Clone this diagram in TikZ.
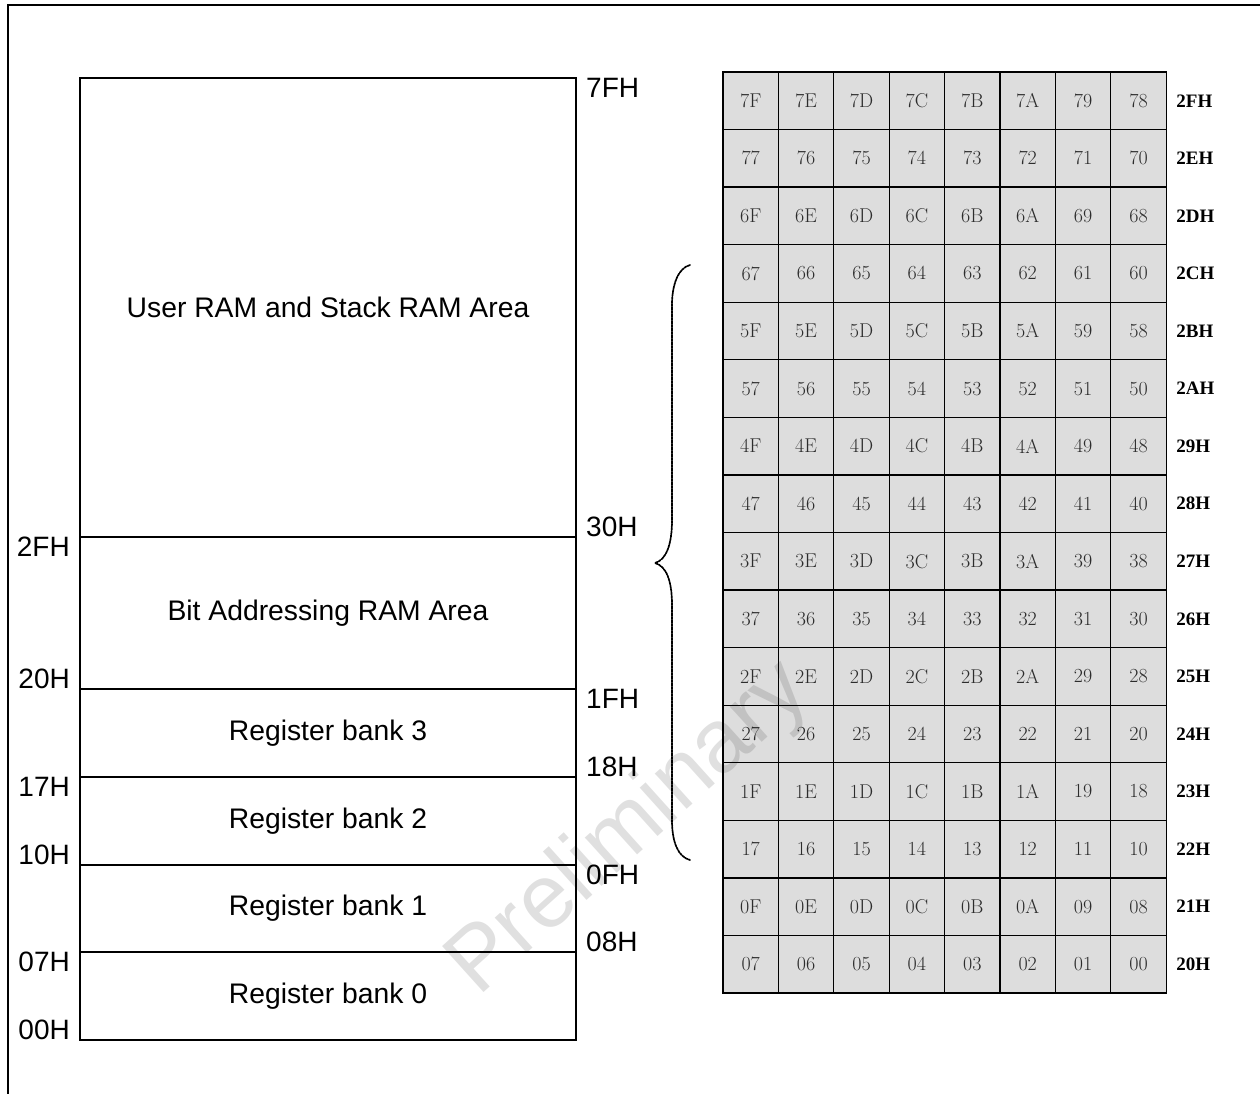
\documentclass[tikz,border=0pt]{standalone}
\usepackage{fontspec}
\usetikzlibrary{positioning}
\newfontfamily\arialfont{Liberation Sans}
\newfontfamily\timesfont{Liberation Serif}
\definecolor{cellgray}{HTML}{DDDDDD}
\definecolor{celltext}{HTML}{2C2C2C}
\newcommand\hexd[1]{\ifcase#1 0\or 1\or 2\or 3\or 4\or 5\or 6\or 7\or 8\or 9\or A\or B\or C\or D\or E\or F\fi}
\begin{document}
\begin{tikzpicture}[x=1pt,y=-1pt,node distance=0pt]
\tikzstyle{area}=[draw,line width=1.8pt,minimum width=496pt,inner sep=0pt,outer sep=0pt,font=\arialfont\fontsize{28.3}{32}\selectfont]
\tikzstyle{addr}=[inner sep=0pt,font=\arialfont\fontsize{28}{32}\selectfont]
\tikzstyle{cell}=[draw,line width=1.3pt,fill=cellgray,text=celltext,minimum width=55.4pt,minimum height=57.56pt,inner sep=0pt,outer sep=0pt,font=\fontsize{20}{24}\selectfont]
\tikzstyle{bytelbl}=[inner sep=0pt,font=\timesfont\bfseries\fontsize{19}{22}\selectfont]
\tikzstyle{wmark}=[inner sep=0pt,text=black,text opacity=0.12,font=\arialfont\fontsize{90}{96}\selectfont]
\useasboundingbox (0,0) rectangle (1260,1093);
\draw[line width=1.5pt] (8,1110) -- (8,5) -- (1280,5);
% memory map
\node [area,minimum height=459pt] (user) at (328,307.5) {User RAM and Stack RAM Area};
\node [area,minimum height=152pt,below=of user] (bit) {Bit Addressing RAM Area};
\node [area,minimum height=88pt,below=of bit] (rb3) {Register bank 3};
\node [area,minimum height=88pt,below=of rb3] (rb2) {Register bank 2};
\node [area,minimum height=87pt,below=of rb2] (rb1) {Register bank 1};
\node [area,minimum height=88pt,below=of rb1] (rb0) {Register bank 0};

\node [addr,anchor=north west] (a7f) at ([xshift=10pt]user.north east) {7FH};
\node [addr,anchor=south west] (a30) at ([xshift=10pt]user.south east) {30H};
\node [addr,anchor=north west] (a1f) at ([xshift=10pt]rb3.north east) {1FH};
\node [addr,anchor=south west] (a18) at ([xshift=10pt]rb3.south east) {18H};
\node [addr,anchor=north west] (a0f) at ([xshift=10pt]rb1.north east) {0FH};
\node [addr,anchor=south west] (a08) at ([xshift=10pt]rb1.south east) {08H};

\node [addr,anchor=north east] (a2f) at ([xshift=-10pt]bit.north west) {2FH};
\node [addr,anchor=south east] (a20) at ([xshift=-10pt]bit.south west) {20H};
\node [addr,anchor=north east] (a17) at ([xshift=-10pt]rb2.north west) {17H};
\node [addr,anchor=south east] (a10) at ([xshift=-10pt]rb2.south west) {10H};
\node [addr,anchor=north east] (a07) at ([xshift=-10pt]rb0.north west) {07H};
\node [addr,anchor=south east] (a00) at ([xshift=-10pt]rb0.south west) {00H};

% bit addressable area
\foreach \r in {0,...,15} {
  \foreach \c in {0,...,7} {
    \pgfmathtruncatemacro\bitno{127-8*\r-\c}
    \pgfmathtruncatemacro\hi{\bitno/16}
    \pgfmathtruncatemacro\lo{\bitno-16*\hi}
    \node [cell] (c\r-\c) at ({723+55.4*(\c+0.5)},{72+57.56*(\r+0.5)}) {\hexd{\hi}\hexd{\lo}};
  }
  \pgfmathtruncatemacro\byteno{47-\r}
  \pgfmathtruncatemacro\hi{\byteno/16}
  \pgfmathtruncatemacro\lo{\byteno-16*\hi}
  \node [bytelbl,right=10pt of c\r-7] (b\r) {\hexd{\hi}\hexd{\lo}H};
}

% brace
\coordinate (brtop) at (690,265);
\coordinate (brtip) at (655,563);
\coordinate (brbot) at (690,860);
\draw[line width=1.7pt,dash pattern=on 2.6pt off 0.9pt,line cap=round]
  (brtop) .. controls (678,268) and (672,285) .. (672,305) -- (672,520)
  .. controls (672,545) and (666,560) .. (brtip)
  .. controls (666,566) and (672,580) .. (672,605) -- (672,820)
  .. controls (672,842) and (678,857) .. (brbot);

\node [wmark,rotate=42] (wm) at (630,830) {Preliminary};
\end{tikzpicture}
\end{document}
